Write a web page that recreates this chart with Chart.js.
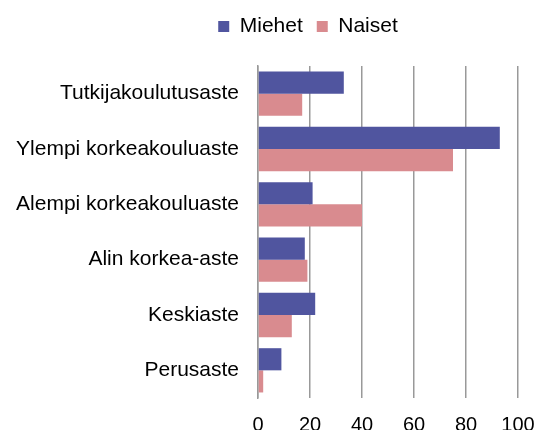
<!DOCTYPE html>
<html>
<head>
<meta charset="utf-8">
<script src="https://cdn.jsdelivr.net/npm/chart.js@4"></script>
<style>
  html, body { margin: 0; padding: 0; background: #fff; }
  #wrap { width: 552px; height: 430px; }
</style>
</head>
<body>
<div id="wrap"><canvas id="chart" width="552" height="430"></canvas></div>
<script>
const categories = ['Tutkijakoulutusaste', 'Ylempi korkeakouluaste', 'Alempi korkeakouluaste', 'Alin korkea-aste', 'Keskiaste', 'Perusaste'];
const miehet = [33, 93, 21, 18, 22, 9];
const naiset = [17, 75, 40, 19, 13, 2];
const xTicks = [0, 20, 40, 60, 80, 100];

const font = "'Liberation Sans', Arial, sans-serif";

// fixed legend height, and shift the legend to sit where the original does
const legendPlace = {
    id: 'legendPlace',
    beforeInit(chart) {
        const fit = chart.legend.fit;
        chart.legend.fit = function () {
            fit.bind(chart.legend)();
            this.height = 66;
        };
    },
    afterLayout(chart) {
        const lg = chart.legend;
        const shift = 308 - (lg.left + lg.right) / 2;
        lg.left += shift;
        lg.right += shift;
        lg.top += 2;
        lg.bottom += 2;
    }
};

new Chart(document.getElementById('chart'), {
    type: 'bar',
    data: {
        labels: categories,
        datasets: [
            { label: 'Miehet', data: miehet, backgroundColor: '#50559f', barPercentage: 1, categoryPercentage: 0.8 },
            { label: 'Naiset', data: naiset, backgroundColor: '#d98b8f', barPercentage: 1, categoryPercentage: 0.8 }
        ]
    },
    options: {
        indexAxis: 'y',
        responsive: false,
        animation: false,
        layout: { padding: { left: 0, right: 34, top: 0, bottom: 0 } },
        plugins: {
            legend: {
                position: 'top',
                labels: {
                    font: { family: font, size: 21 },
                    color: '#000',
                    boxWidth: 11,
                    boxHeight: 11,
                    padding: 14
                }
            },
            tooltip: { enabled: false }
        },
        scales: {
            x: {
                min: 0,
                max: 100,
                afterBuildTicks(scale) { scale.ticks = xTicks.map(v => ({ value: v })); },
                afterFit(scale) { scale.height = 32; },
                grid: { color: '#999', lineWidth: 1.5, drawTicks: false },
                border: { display: false },
                ticks: { font: { family: font, size: 20 }, color: '#000', padding: 15 }
            },
            y: {
                afterFit(scale) { scale.width = 258; },
                grid: { display: false, drawTicks: false },
                border: { display: true, color: '#999', width: 1.5 },
                ticks: { font: { family: font, size: 21 }, color: '#000', padding: 19 }
            }
        }
    },
    plugins: [legendPlace]
});
</script>
</body>
</html>
